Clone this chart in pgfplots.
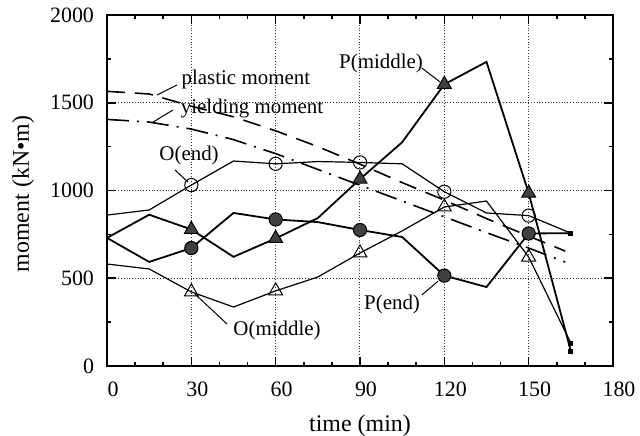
\documentclass[border=0pt]{standalone}
\usepackage{fontspec}
\setmainfont{Liberation Serif}
\usepackage{pgfplots}
\pgfplotsset{compat=1.18}
\begin{document}
\begin{tikzpicture}
\begin{axis}[
  at={(0,0)}, anchor=south west,
  scale only axis, width=253bp, height=175.5bp,
  xmin=0, xmax=180, ymin=0, ymax=2000,
  xtick={0,30,60,90,120,150,180},
  ytick={0,500,1000,1500,2000},
  minor x tick num=2, minor y tick num=1,
  tick align=inside, xtick pos=both, ytick pos=both,
  major tick length=4.5bp, minor tick length=2bp,
  grid=major,
  major grid style={densely dotted, black!80, line width=0.5bp},
  axis line style={line width=0.9bp},
  every tick/.append style={black, line width=0.8bp},
  tick label style={font=\rmfamily\fontsize{11}{13}\selectfont},
  xticklabel style={yshift=-4.5bp, xshift=3bp},
  yticklabel style={xshift=-3bp},
  /pgf/number format/assume math mode=true,
  /pgf/number format/set thousands separator={},
  scaled y ticks=false,
  xlabel={time (min)}, ylabel={moment (kN•m)},
  label style={font=\fontsize{12}{14}\selectfont},
  xlabel style={at={(axis description cs:0.5,-0.17)}, anchor=center},
  ylabel style={at={(axis description cs:-0.166,0.49)}, anchor=center},
]
% plastic moment (dashed)
\addplot[line width=0.8bp, dash pattern=on 9bp off 5bp] coordinates {
 (0,1565) (15,1550) (30,1480) (45,1420) (60,1340) (75,1250) (90,1150)
 (105,1045) (120,945) (135,840) (150,740) (163,655)};
% yielding moment (dash-dot)
\addplot[line width=0.8bp, dash pattern=on 11bp off 4bp on 1bp off 4bp] coordinates {
 (0,1405) (15,1390) (30,1350) (45,1290) (60,1210) (75,1120) (90,1030)
 (105,940) (120,850) (135,760) (150,672) (163,592)};
% O(end)
\addplot[line width=0.6bp] coordinates {
 (0,860) (15,889) (30,1031) (45,1168) (60,1152) (75,1165) (90,1160)
 (105,1152) (120,993) (135,872) (150,857) (165,757)};
% O(middle)
\addplot[line width=0.6bp] coordinates {
 (0,581) (15,553) (30,422) (45,336) (60,428) (75,507) (90,644)
 (105,770) (120,906) (135,940) (150,621) (165,131)};
% P(end)
\addplot[line width=0.9bp] coordinates {
 (0,730) (15,593) (30,672) (45,872) (60,835) (75,820) (90,775)
 (105,735) (120,515) (135,450) (150,755) (165,757)};
% P(middle)
\addplot[line width=0.9bp] coordinates {
 (0,730) (15,862) (30,778) (45,622) (60,727) (75,843) (90,1065)
 (105,1275) (120,1605) (135,1733) (150,985) (165,85)};
% markers
\addplot[only marks, mark=o, mark size=3.3bp, mark options={draw=black, fill=none, line width=0.5bp}] coordinates {
 (30,1031) (60,1152) (90,1160) (120,993) (150,857)};
\addplot[only marks, mark=triangle, mark size=4bp, mark options={draw=black, fill=none, line width=0.5bp}] coordinates {
 (30,422) (60,428) (90,644) (120,906) (150,621)};
\addplot[only marks, mark=*, mark size=3.3bp, mark options={draw=black, fill=black!75, line width=0.5bp}] coordinates {
 (30,672) (60,835) (90,775) (120,515) (150,755)};
\addplot[only marks, mark=triangle*, mark size=4bp, mark options={draw=black, fill=black!75, line width=0.5bp}] coordinates {
 (30,778) (60,727) (90,1065) (120,1605) (150,985)};
\addplot[only marks, mark=square*, mark size=1bp, mark options={draw=black, fill=black}] coordinates {
 (165,757) (165,131) (165,85)};
% annotations
\begin{scope}[every node/.style={font=\fontsize{10.5}{12}\selectfont, inner sep=0pt}]
\node at (axis cs:49.4,1635) {plastic moment};
\node at (axis cs:51.6,1470) {yielding moment};
\node at (axis cs:29.2,1202) {O(end)};
\node at (axis cs:97.5,1726) {P(middle)};
\node at (axis cs:101.4,348) {P(end)};
\node at (axis cs:60.5,205) {O(middle)};
\end{scope}
\draw[line width=0.5bp] (axis cs:24.9,1601) -- (axis cs:17.8,1544);
\draw[line width=0.5bp] (axis cs:23.5,1459) -- (axis cs:16.4,1390);
\draw[line width=0.5bp] (axis cs:24.2,1117) -- (axis cs:28.8,1048);
\draw[line width=0.5bp] (axis cs:112,1698) -- (axis cs:118.5,1618);
\draw[line width=0.5bp] (axis cs:112,405) -- (axis cs:117.8,484);
\draw[line width=0.5bp] (axis cs:42.7,239) -- (axis cs:31.3,410);
\end{axis}
\pgfresetboundingbox
\path[use as bounding box] (-53.5bp,-35bp) rectangle (266.5bp,183bp);
\end{tikzpicture}
\end{document}
